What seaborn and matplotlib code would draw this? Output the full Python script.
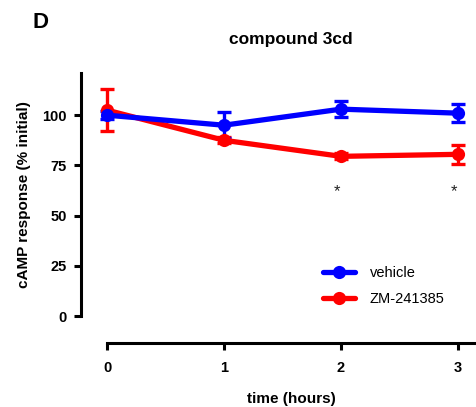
import numpy as np
import pandas as pd
import matplotlib
matplotlib.use("Agg")
import matplotlib.pyplot as plt
import seaborn as sns

sns.set_theme(style="ticks")
plt.rcParams['font.family'] = ['Liberation Sans', 'DejaVu Sans']
plt.rcParams.update({'text.color': 'black', 'axes.labelcolor': 'black',
                     'xtick.color': 'black', 'ytick.color': 'black'})

time_h = [0, 1, 2, 3]
vehicle_mean = [100, 95, 103, 101]
vehicle_err = [2, 6.5, 4, 4.5]
zm_mean = [102.5, 87.5, 79.5, 80.5]
zm_err = [10.5, 1.5, 1.5, 4.7]
series_names = ["vehicle", "ZM-241385"]
series_colors = ["#0000ff", "#ff0000"]
star_times = [2, 3]
star_level = 62
yticks = [0, 25, 50, 75, 100]
xticks = [0, 1, 2, 3]

df = pd.DataFrame({
    "time": time_h * 2,
    "response": vehicle_mean + zm_mean,
    "group": [series_names[0]] * 4 + [series_names[1]] * 4,
})

fig = plt.figure(figsize=(4.76, 4.07), dpi=100)
ax = fig.add_axes([107/476, (407-316)/407, (475.5-107)/476, 243/407])

palette = dict(zip(series_names, series_colors))
for name, mean, err in [(series_names[1], zm_mean, zm_err), (series_names[0], vehicle_mean, vehicle_err)]:
    _, caps, bars = ax.errorbar(time_h, mean, yerr=err, fmt='none', ecolor=palette[name],
                                elinewidth=2.4, capsize=5, capthick=2.4, zorder=2)
    for c in caps:
        c.set_clip_on(False)
    for b in bars:
        b.set_clip_on(False)
for name, z in [(series_names[1], 3), (series_names[0], 4)]:
    sns.lineplot(data=df[df.group == name], x="time", y="response", color=palette[name],
                 marker='o', markersize=9.5, markeredgewidth=0, linewidth=3.8, ax=ax,
                 label=name, zorder=z, clip_on=False)

for t in star_times:
    ax.text(t - 0.03, star_level, "*", ha='center', va='center', fontsize=12, color='#222222')

ax.set_xlim(0, 3.15)
ax.set_ylim(0, 121)
ax.set_xticks(xticks)
ax.set_yticks(yticks)
ax.set_xticklabels([str(v) for v in xticks])
ax.set_yticklabels([str(v) for v in yticks])

for s in ['top', 'right']:
    ax.spines[s].set_visible(False)
ax.spines['left'].set_position(('outward', 19))
ax.spines['bottom'].set_position(('outward', 19.5))
ax.spines['left'].set_linewidth(2.2)
ax.spines['bottom'].set_linewidth(2.2)
ax.spines['left'].set_color('black')
ax.spines['bottom'].set_color('black')
ax.tick_params(axis='both', width=2.2, length=5, color='black', labelsize=10.5, labelcolor='black')
ax.tick_params(axis='x', pad=8)
ax.tick_params(axis='y', pad=5)

ax.set_xlabel("time (hours)", fontweight='bold', fontsize=11, labelpad=12)
ax.set_ylabel("cAMP response (% initial)", fontweight='bold', fontsize=11, labelpad=8)
ax.set_title("compound 3cd", fontweight='bold', fontsize=12.5, pad=21)

handles, labels = ax.get_legend_handles_labels()
order = [labels.index(series_names[0]), labels.index(series_names[1])]
ax.legend([handles[i] for i in order], [labels[i] for i in order],
          loc='upper left', bbox_to_anchor=(0.55, 0.26), frameon=False, fontsize=10.5,
          handlelength=2.2, handletextpad=1.0, labelspacing=0.85)

fig.text(32/476, 1 - 23/407, "D", fontweight='bold', fontsize=16, ha='left', va='center')

fig.canvas.draw()
for lbl in ax.get_xticklabels() + ax.get_yticklabels():
    lbl.set_fontweight('bold')

fig.savefig("out.png", dpi=100)
